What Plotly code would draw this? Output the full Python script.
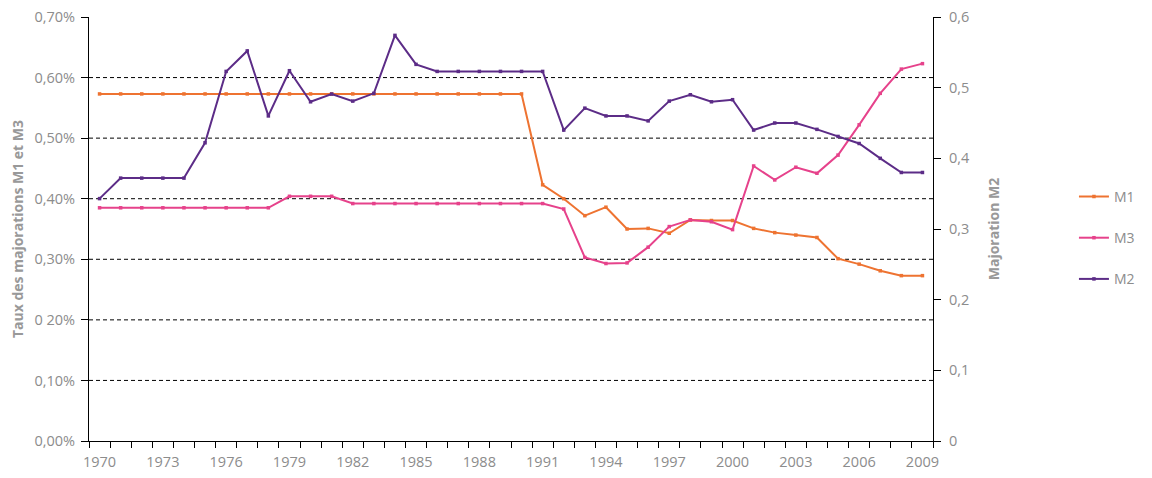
import plotly.graph_objs as go

years = list(range(1970, 2010))

# taux des majorations, en %
m1 = [0.573] * 21 + [0.423, 0.400, 0.372, 0.386, 0.350, 0.351, 0.343, 0.365, 0.364,
                     0.364, 0.351, 0.344, 0.340, 0.336, 0.301, 0.292, 0.281, 0.273, 0.273]
m3 = [0.385] * 9 + [0.404, 0.404, 0.404] + [0.392] * 10 + [
    0.383, 0.303, 0.293, 0.294, 0.320, 0.354, 0.365, 0.362, 0.349, 0.454,
    0.431, 0.452, 0.442, 0.472, 0.522, 0.574, 0.614, 0.623]
m2 = [0.343, 0.372, 0.372, 0.372, 0.372, 0.422, 0.523, 0.552, 0.460, 0.524,
      0.480, 0.491, 0.481, 0.492, 0.574, 0.533, 0.523, 0.523, 0.523, 0.523,
      0.523, 0.523, 0.440, 0.471, 0.460, 0.460, 0.453, 0.481, 0.490, 0.480,
      0.483, 0.440, 0.450, 0.450, 0.441, 0.431, 0.421, 0.400, 0.380, 0.380]

left_ticks = [0, 0.1, 0.2, 0.3, 0.4, 0.5, 0.6, 0.7]
left_labels = ['0,00%', '0,10%', '0 20%', '0,30%', '0,40%', '0,50%', '0,60%', '0,70%']
grid_levels = [0.1, 0.2, 0.3, 0.4, 0.5, 0.6]
year_labels = list(range(1970, 2010, 3))

GREY = '#8c8c8c'
FONT = 'Open Sans'

fig = go.Figure()
for name, vals, col, ax in [('M1', m1, '#ee7331', 'y'), ('M3', m3, '#e6428b', 'y'),
                            ('M2', m2, '#5c2c87', 'y2')]:
    fig.add_trace(go.Scatter(x=years, y=vals, name=name, yaxis=ax, mode='lines+markers',
                             line=dict(color=col, width=2),
                             marker=dict(symbol='square', size=3.5, color=col),
                             legendgroup=name))

# pointillés horizontaux (sans ligne en haut)
for g in grid_levels:
    fig.add_shape(type='line', xref='paper', x0=0, x1=1, yref='y', y0=g, y1=g,
                  line=dict(color='black', width=1, dash='4px,3px'), layer='below')

title_font = dict(family=FONT, size=14, color='#999999', weight='bold')

# the page body has an 8px margin, so the figure is 8px smaller each way
fig.update_layout(
    width=1144, height=470,
    margin=dict(l=81, r=219, t=9, b=37),
    paper_bgcolor='white', plot_bgcolor='white',
    font=dict(family=FONT, size=14.5, color=GREY),
    separators=', ',
    showlegend=True,
    legend=dict(x=1.167, y=0.479, xanchor='left', yanchor='middle',
                traceorder='grouped', tracegroupgap=20,
                font=dict(size=14, color=GREY)),
    xaxis=dict(range=[1969.5, 2009.5], tickvals=year_labels, ticks='',
               ticklabelstandoff=8,
               showline=True, linecolor='black', linewidth=1, showgrid=False,
               zeroline=False, automargin=False,
               minor=dict(tickvals=[y + 0.5 for y in range(1969, 2010)],
                          ticks='outside', ticklen=6, tickcolor='black', showgrid=False)),
    yaxis=dict(range=[0, 0.7], tickvals=left_ticks, ticktext=left_labels,
               ticks='outside', ticklen=7, tickcolor='black', ticklabelstandoff=3,
               ticklabeloverflow='allow',
               showline=True, linecolor='black', linewidth=1,
               showgrid=False, zeroline=False, automargin=False,
               title=dict(text='Taux des majorations M1 et M3', standoff=8,
                          font=title_font)),
    yaxis2=dict(range=[0, 0.6], dtick=0.1, overlaying='y', side='right',
                ticks='outside', ticklen=7, tickcolor='black', ticklabelstandoff=5,
                ticklabeloverflow='allow',
                showline=True, linecolor='black', linewidth=1,
                showgrid=False, zeroline=False, automargin=False,
                title=dict(text='Majoration M2', standoff=20, font=title_font)),
)

fig.write_html('out.html')
